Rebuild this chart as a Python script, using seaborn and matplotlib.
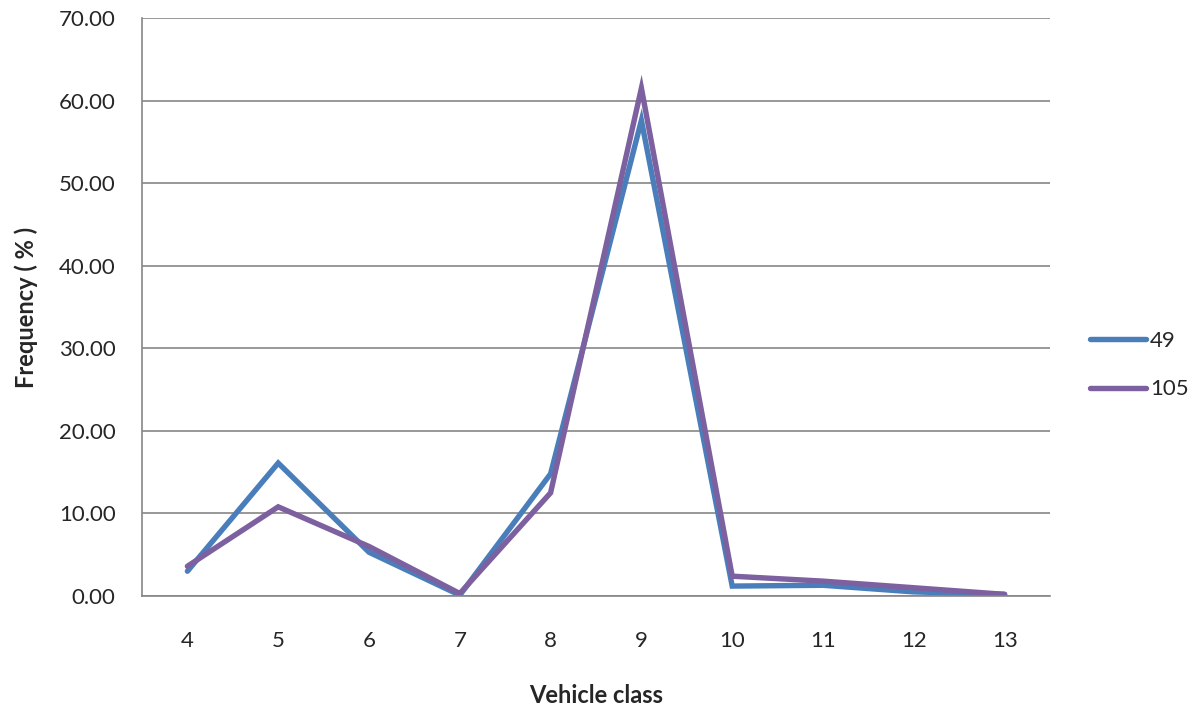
import matplotlib
matplotlib.use("Agg")
import matplotlib.pyplot as plt
import seaborn as sns
import pandas as pd
import numpy as np

vehicle_class = [4, 5, 6, 7, 8, 9, 10, 11, 12, 13]
series_49 = [3.0, 16.1, 5.3, 0.1, 14.8, 57.6, 1.2, 1.3, 0.5, 0.2]
series_105 = [3.6, 10.8, 6.0, 0.3, 12.5, 61.5, 2.4, 1.8, 1.0, 0.2]
series_names = ["49", "105"]

df = pd.DataFrame({
    "Vehicle class": vehicle_class * 2,
    "Frequency": series_49 + series_105,
    "Series": [series_names[0]] * len(vehicle_class) + [series_names[1]] * len(vehicle_class),
})

sns.set_style("white")
plt.rcParams["font.family"] = ["Lato", "DejaVu Sans"]

fig = plt.figure(figsize=(11.98, 7.06), dpi=100)
ax = fig.add_axes([142 / 1198, 1 - 596 / 706, (1050 - 142) / 1198, (596 - 18) / 706])

palette = {"49": "#4A7EBB", "105": "#7D60A0"}
sns.lineplot(data=df, x="Vehicle class", y="Frequency", hue="Series",
             palette=palette, linewidth=3.9, ax=ax, legend=False,
             solid_capstyle="round", solid_joinstyle="miter")

ax.set_xlim(3.5, 13.5)
ax.set_ylim(0, 70)
ax.set_yticks(np.arange(0, 71, 10))
ax.set_yticklabels([f"{v:.2f}" for v in np.arange(0, 71, 10)], fontsize=16)
ax.set_xticks(vehicle_class)
ax.set_xticklabels([str(v) for v in vehicle_class], fontsize=16)
ax.set_xticks(np.arange(3.5, 13.6, 1), minor=True)
ax.tick_params(axis="x", which="major", length=0, pad=25)
ax.tick_params(axis="x", which="minor", length=6, color="#868686", width=1.2)
ax.tick_params(axis="y", which="major", length=6, color="#868686", width=1.2, pad=13)

ax.yaxis.grid(True, color="#868686", linewidth=1.2)
ax.set_axisbelow(True)
for side in ["top", "right"]:
    ax.spines[side].set_visible(False)
for side in ["left", "bottom"]:
    ax.spines[side].set_color("#868686")
    ax.spines[side].set_linewidth(1.2)

ax.set_xlabel("Vehicle class", fontsize=17, fontweight="bold", labelpad=24)
ax.set_ylabel("Frequency ( % )", fontsize=17, fontweight="bold", labelpad=15)

handles = [plt.Line2D([0], [0], color=palette[n], linewidth=3.9, solid_capstyle="round") for n in series_names]
fig.legend(handles, series_names, loc="center left", bbox_to_anchor=(1070 / 1198, 1 - 365 / 706),
           frameon=False, fontsize=16, handlelength=2.5, handletextpad=0.2, labelspacing=1.3)

fig.savefig("out.png", dpi=100)
